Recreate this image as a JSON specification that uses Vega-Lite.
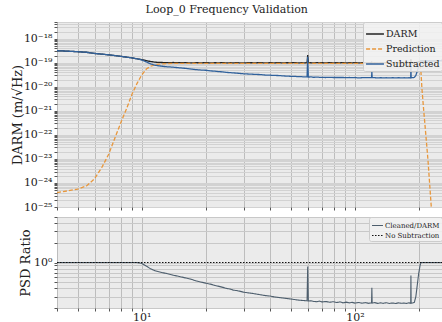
{
  "$schema": "https://vega.github.io/schema/vega-lite/v6.json",
  "padding": {"left": 11, "top": 4, "right": 0, "bottom": 0},
  "title": {"text": "Loop_0 Frequency Validation", "font": "DejaVu Serif", "fontSize": 11, "fontWeight": "normal", "color": "#222222", "anchor": "middle", "offset": 1},
  "spacing": 10,
  "bounds": "flush",
  "resolve": {"scale": {"color": "independent", "strokeDash": "independent", "x": "independent", "y": "independent"}, "legend": {"color": "independent", "strokeDash": "independent"}},
  "config": {
    "font": "DejaVu Serif",
    "view": {"fill": "#ebebeb", "stroke": null},
    "axis": {"domain": false, "tickColor": "#555555", "tickSize": 3, "labelFont": "DejaVu Serif", "titleFont": "DejaVu Serif", "labelColor": "#222222", "titleColor": "#222222", "titleFontWeight": "normal", "labelFontSize": 11, "titleFontSize": 13, "labelPadding": 2},
    "legend": {"title": null, "orient": "top-right", "offset": 0, "fillColor": "rgba(242,242,242,0.85)", "strokeColor": "#cccccc", "cornerRadius": 2, "symbolType": "stroke", "labelFont": "DejaVu Serif", "labelColor": "#222222"}
  },
  "datasets": {
    "psd": [
      {"f":4,"DARM":3.2e-19,"Prediction":4.0e-25,"Subtracted":3.2e-19,"R":1},
      {"f":4.5,"DARM":3.05e-19,"Prediction":4.7e-25,"Subtracted":3.05e-19,"R":1},
      {"f":5,"DARM":2.9e-19,"Prediction":5.6e-25,"Subtracted":2.9e-19,"R":1},
      {"f":5.5,"DARM":2.75e-19,"Prediction":7.5e-25,"Subtracted":2.75e-19,"R":1},
      {"f":6,"DARM":2.45e-19,"Prediction":1.5e-24,"Subtracted":2.45e-19,"R":1},
      {"f":6.5,"DARM":2.3e-19,"Prediction":4.5e-24,"Subtracted":2.3e-19,"R":1},
      {"f":7,"DARM":2.15e-19,"Prediction":1.6e-23,"Subtracted":2.15e-19,"R":1},
      {"f":7.5,"DARM":2.0e-19,"Prediction":8e-23,"Subtracted":2.0e-19,"R":1},
      {"f":8,"DARM":1.85e-19,"Prediction":3.5e-22,"Subtracted":1.85e-19,"R":1},
      {"f":8.5,"DARM":1.72e-19,"Prediction":1.3e-21,"Subtracted":1.72e-19,"R":1},
      {"f":9,"DARM":1.6e-19,"Prediction":5e-21,"Subtracted":1.6e-19,"R":1},
      {"f":9.5,"DARM":1.47e-19,"Prediction":1.4e-20,"Subtracted":1.47e-19,"R":1},
      {"f":10,"DARM":1.35e-19,"Prediction":3.2e-20,"Subtracted":1.31e-19,"R":0.97},
      {"f":10.5,"DARM":1.24e-19,"Prediction":5.5e-20,"Subtracted":1.09e-19,"R":0.88},
      {"f":11,"DARM":1.13e-19,"Prediction":7.2e-20,"Subtracted":9.0e-20,"R":0.8},
      {"f":11.5,"DARM":1.07e-19,"Prediction":8.2e-20,"Subtracted":8.0e-20,"R":0.75},
      {"f":12,"DARM":1.04e-19,"Prediction":8.8e-20,"Subtracted":7.5e-20,"R":0.72},
      {"f":13,"DARM":1.02e-19,"Prediction":9.3e-20,"Subtracted":6.9e-20,"R":0.68},
      {"f":14,"DARM":1.03e-19,"Prediction":9.5e-20,"Subtracted":6.6e-20,"R":0.64},
      {"f":15,"DARM":1.01e-19,"Prediction":9.4e-20,"Subtracted":6.2e-20,"R":0.61},
      {"f":16,"DARM":1.02e-19,"Prediction":9.5e-20,"Subtracted":5.9e-20,"R":0.58},
      {"f":17,"DARM":0.99e-19,"Prediction":9.4e-20,"Subtracted":5.5e-20,"R":0.555},
      {"f":18,"DARM":1.01e-19,"Prediction":9.5e-20,"Subtracted":5.2e-20,"R":0.52},
      {"f":19,"DARM":1.0e-19,"Prediction":9.4e-20,"Subtracted":5.0e-20,"R":0.5},
      {"f":20,"DARM":1.02e-19,"Prediction":9.5e-20,"Subtracted":4.9e-20,"R":0.48},
      {"f":21,"DARM":0.99e-19,"Prediction":9.4e-20,"Subtracted":4.6e-20,"R":0.465},
      {"f":22,"DARM":1.01e-19,"Prediction":9.5e-20,"Subtracted":4.5e-20,"R":0.445},
      {"f":23,"DARM":1.0e-19,"Prediction":9.5e-20,"Subtracted":4.3e-20,"R":0.43},
      {"f":24,"DARM":1.02e-19,"Prediction":9.4e-20,"Subtracted":4.2e-20,"R":0.415},
      {"f":25,"DARM":0.99e-19,"Prediction":9.5e-20,"Subtracted":4.0e-20,"R":0.4},
      {"f":26,"DARM":1.01e-19,"Prediction":9.4e-20,"Subtracted":3.9e-20,"R":0.39},
      {"f":27,"DARM":1.0e-19,"Prediction":9.5e-20,"Subtracted":3.8e-20,"R":0.375},
      {"f":28,"DARM":1.02e-19,"Prediction":9.5e-20,"Subtracted":3.7e-20,"R":0.37},
      {"f":29,"DARM":0.99e-19,"Prediction":9.4e-20,"Subtracted":3.6e-20,"R":0.36},
      {"f":30,"DARM":1.0e-19,"Prediction":9.5e-20,"Subtracted":3.5e-20,"R":0.35},
      {"f":32,"DARM":1.01e-19,"Prediction":9.4e-20,"Subtracted":3.4e-20,"R":0.34},
      {"f":34,"DARM":1.0e-19,"Prediction":9.5e-20,"Subtracted":3.3e-20,"R":0.33},
      {"f":36,"DARM":1.02e-19,"Prediction":9.5e-20,"Subtracted":3.25e-20,"R":0.32},
      {"f":38,"DARM":0.99e-19,"Prediction":9.4e-20,"Subtracted":3.1e-20,"R":0.31},
      {"f":40,"DARM":1.01e-19,"Prediction":9.5e-20,"Subtracted":3.05e-20,"R":0.305},
      {"f":42,"DARM":1.0e-19,"Prediction":9.5e-20,"Subtracted":3.0e-20,"R":0.295},
      {"f":44,"DARM":1.02e-19,"Prediction":9.4e-20,"Subtracted":2.95e-20,"R":0.29},
      {"f":46,"DARM":0.99e-19,"Prediction":9.5e-20,"Subtracted":2.85e-20,"R":0.285},
      {"f":48,"DARM":1.01e-19,"Prediction":9.5e-20,"Subtracted":2.8e-20,"R":0.28},
      {"f":50,"DARM":1.0e-19,"Prediction":9.4e-20,"Subtracted":2.75e-20,"R":0.275},
      {"f":52,"DARM":1.02e-19,"Prediction":9.5e-20,"Subtracted":2.75e-20,"R":0.27},
      {"f":54,"DARM":0.99e-19,"Prediction":9.5e-20,"Subtracted":2.65e-20,"R":0.265},
      {"f":56,"DARM":1.01e-19,"Prediction":9.4e-20,"Subtracted":2.65e-20,"R":0.262},
      {"f":58,"DARM":1.0e-19,"Prediction":9.5e-20,"Subtracted":2.6e-20,"R":0.26},
      {"f":59.6,"DARM":1.01e-19,"Prediction":9.5e-20,"Subtracted":2.6e-20,"R":0.258},
      {"f":60,"DARM":2.1e-19,"Prediction":9.5e-20,"Subtracted":1.8e-19,"R":0.87},
      {"f":60.4,"DARM":1.0e-19,"Prediction":9.4e-20,"Subtracted":2.55e-20,"R":0.256},
      {"f":62,"DARM":1.01e-19,"Prediction":9.5e-20,"Subtracted":2.6e-20,"R":0.258},
      {"f":64,"DARM":0.99e-19,"Prediction":9.5e-20,"Subtracted":2.5e-20,"R":0.252},
      {"f":66,"DARM":1.02e-19,"Prediction":9.4e-20,"Subtracted":2.55e-20,"R":0.25},
      {"f":68,"DARM":1.0e-19,"Prediction":9.5e-20,"Subtracted":2.5e-20,"R":0.255},
      {"f":70,"DARM":1.01e-19,"Prediction":9.5e-20,"Subtracted":2.5e-20,"R":0.248},
      {"f":73,"DARM":0.99e-19,"Prediction":9.4e-20,"Subtracted":2.45e-20,"R":0.252},
      {"f":76,"DARM":1.02e-19,"Prediction":9.5e-20,"Subtracted":2.5e-20,"R":0.245},
      {"f":79,"DARM":1.0e-19,"Prediction":9.5e-20,"Subtracted":2.45e-20,"R":0.25},
      {"f":82,"DARM":1.01e-19,"Prediction":9.4e-20,"Subtracted":2.45e-20,"R":0.243},
      {"f":85,"DARM":1.0e-19,"Prediction":9.5e-20,"Subtracted":2.45e-20,"R":0.248},
      {"f":88,"DARM":1.02e-19,"Prediction":9.5e-20,"Subtracted":2.45e-20,"R":0.24},
      {"f":91,"DARM":0.99e-19,"Prediction":9.4e-20,"Subtracted":2.4e-20,"R":0.246},
      {"f":94,"DARM":1.01e-19,"Prediction":9.5e-20,"Subtracted":2.45e-20,"R":0.24},
      {"f":97,"DARM":1.0e-19,"Prediction":9.5e-20,"Subtracted":2.4e-20,"R":0.244},
      {"f":100,"DARM":1.02e-19,"Prediction":9.4e-20,"Subtracted":2.45e-20,"R":0.238},
      {"f":104,"DARM":0.99e-19,"Prediction":9.5e-20,"Subtracted":2.35e-20,"R":0.243},
      {"f":108,"DARM":1.01e-19,"Prediction":9.5e-20,"Subtracted":2.4e-20,"R":0.237},
      {"f":112,"DARM":1.0e-19,"Prediction":9.4e-20,"Subtracted":2.4e-20,"R":0.242},
      {"f":116,"DARM":1.02e-19,"Prediction":9.5e-20,"Subtracted":2.4e-20,"R":0.236},
      {"f":119.6,"DARM":1.0e-19,"Prediction":9.5e-20,"Subtracted":2.4e-20,"R":0.24},
      {"f":120,"DARM":1.05e-19,"Prediction":9.5e-20,"Subtracted":4.2e-20,"R":0.41},
      {"f":120.4,"DARM":1.0e-19,"Prediction":9.4e-20,"Subtracted":2.4e-20,"R":0.238},
      {"f":124,"DARM":1.01e-19,"Prediction":9.5e-20,"Subtracted":2.4e-20,"R":0.242},
      {"f":128,"DARM":0.99e-19,"Prediction":9.5e-20,"Subtracted":2.35e-20,"R":0.235},
      {"f":132,"DARM":1.02e-19,"Prediction":9.4e-20,"Subtracted":2.4e-20,"R":0.24},
      {"f":136,"DARM":1.0e-19,"Prediction":9.5e-20,"Subtracted":2.35e-20,"R":0.236},
      {"f":140,"DARM":1.01e-19,"Prediction":9.5e-20,"Subtracted":2.4e-20,"R":0.241},
      {"f":145,"DARM":0.99e-19,"Prediction":9.4e-20,"Subtracted":2.35e-20,"R":0.235},
      {"f":150,"DARM":1.02e-19,"Prediction":9.5e-20,"Subtracted":2.4e-20,"R":0.239},
      {"f":155,"DARM":1.0e-19,"Prediction":9.5e-20,"Subtracted":2.35e-20,"R":0.234},
      {"f":160,"DARM":1.01e-19,"Prediction":9.4e-20,"Subtracted":2.4e-20,"R":0.24},
      {"f":165,"DARM":1.0e-19,"Prediction":9.5e-20,"Subtracted":2.35e-20,"R":0.236},
      {"f":170,"DARM":1.02e-19,"Prediction":9.5e-20,"Subtracted":2.4e-20,"R":0.238},
      {"f":175,"DARM":0.99e-19,"Prediction":9.4e-20,"Subtracted":2.35e-20,"R":0.235},
      {"f":179,"DARM":1.01e-19,"Prediction":9.5e-20,"Subtracted":2.4e-20,"R":0.24},
      {"f":182.6,"DARM":1.0e-19,"Prediction":9.5e-20,"Subtracted":2.35e-20,"R":0.236},
      {"f":183,"DARM":1.4e-19,"Prediction":9.5e-20,"Subtracted":9.0e-20,"R":0.63},
      {"f":183.4,"DARM":1.0e-19,"Prediction":9.5e-20,"Subtracted":2.4e-20,"R":0.238},
      {"f":187,"DARM":1.02e-19,"Prediction":9.4e-20,"Subtracted":2.4e-20,"R":0.24},
      {"f":190,"DARM":1.0e-19,"Prediction":9.3e-20,"Subtracted":2.5e-20,"R":0.245},
      {"f":193,"DARM":1.03e-19,"Prediction":9.2e-20,"Subtracted":3.0e-20,"R":0.3},
      {"f":196,"DARM":1.05e-19,"Prediction":9.0e-20,"Subtracted":4.5e-20,"R":0.45},
      {"f":199,"DARM":1.1e-19,"Prediction":8.8e-20,"Subtracted":7.0e-20,"R":0.68},
      {"f":202,"DARM":1.15e-19,"Prediction":7.5e-20,"Subtracted":1.0e-19,"R":0.9},
      {"f":204,"DARM":1.2e-19,"Prediction":4e-20,"Subtracted":1.2e-19,"R":1},
      {"f":206,"DARM":1.2e-19,"Prediction":9e-21,"Subtracted":1.2e-19,"R":1},
      {"f":210,"DARM":1.22e-19,"Prediction":1.1e-21,"Subtracted":1.22e-19,"R":1},
      {"f":215,"DARM":1.2e-19,"Prediction":1e-22,"Subtracted":1.2e-19,"R":1},
      {"f":220,"DARM":1.23e-19,"Prediction":9e-24,"Subtracted":1.23e-19,"R":1},
      {"f":228,"DARM":1.2e-19,"Prediction":1e-25,"Subtracted":1.2e-19,"R":1},
      {"f":240,"DARM":1.22e-19,"Prediction":5e-27,"Subtracted":1.22e-19,"R":1},
      {"f":256,"DARM":1.25e-19,"Prediction":1e-28,"Subtracted":1.25e-19,"R":1}
    ],
    "nosub": [{"f":4,"v":1},{"f":256,"v":1}]
  },
  "vconcat": [
    {
      "width": 385,
      "height": 185,
      "data": {"name": "psd"},
      "transform": [{"fold": ["DARM", "Prediction", "Subtracted"], "as": ["series", "val"]}],
      "mark": {"type": "line", "clip": true, "strokeWidth": 1.3},
      "encoding": {
        "x": {"field": "f", "type": "quantitative", "scale": {"type": "log", "domain": [4, 256], "nice": false},
              "axis": {"values": [4,5,6,7,8,9,10,20,30,40,50,60,70,80,90,100,200], "labels": false, "title": null, "gridColor": "#bdbdbd", "gridWidth": 1}},
        "y": {"field": "val", "type": "quantitative", "scale": {"type": "log", "domain": [1e-25, 5e-18], "nice": false},
              "axis": {"values": [1e-25,2e-25,3e-25,4e-25,5e-25,6e-25,7e-25,8e-25,9e-25,1e-24,2e-24,3e-24,4e-24,5e-24,6e-24,7e-24,8e-24,9e-24,1e-23,2e-23,3e-23,4e-23,5e-23,6e-23,7e-23,8e-23,9e-23,1e-22,2e-22,3e-22,4e-22,5e-22,6e-22,7e-22,8e-22,9e-22,1e-21,2e-21,3e-21,4e-21,5e-21,6e-21,7e-21,8e-21,9e-21,1e-20,2e-20,3e-20,4e-20,5e-20,6e-20,7e-20,8e-20,9e-20,1e-19,2e-19,3e-19,4e-19,5e-19,6e-19,7e-19,8e-19,9e-19,1e-18,2e-18,3e-18,4e-18,5e-18],
                       "labelExpr": "abs(log(datum.value)/LN10 - round(log(datum.value)/LN10)) > 0.01 ? '' : ['10⁻²⁵','10⁻²⁴','10⁻²³','10⁻²²','10⁻²¹','10⁻²⁰','10⁻¹⁹','10⁻¹⁸'][round(log(datum.value)/LN10) + 25]",
                       "title": "DARM (m/√Hz)", "gridColor": "#d2d2d2", "gridWidth": 1, "minExtent": 28, "maxExtent": 28, "titlePadding": 5, "labelOverlap": false}},
        "color": {"field": "series", "type": "nominal", "scale": {"domain": ["DARM", "Prediction", "Subtracted"], "range": ["#222222", "#e8973c", "#30619c"]},
                  "legend": {"labelFontSize": 9.5, "symbolSize": 320, "symbolStrokeWidth": 1.4, "padding": 2, "rowPadding": 0, "labelOffset": 1}},
        "strokeDash": {"field": "series", "type": "nominal", "scale": {"domain": ["DARM", "Prediction", "Subtracted"], "range": [[1, 0], [4, 2], [1, 0]]},
                  "legend": {"labelFontSize": 9.5, "symbolSize": 320, "symbolStrokeWidth": 1.4, "padding": 2, "rowPadding": 0, "labelOffset": 1}}
      }
    },
    {
      "width": 385,
      "height": 91,
      "encoding": {
        "x": {"field": "f", "type": "quantitative", "scale": {"type": "log", "domain": [4, 256], "nice": false},
              "axis": {"values": [4,5,6,7,8,9,10,20,30,40,50,60,70,80,90,100,200], "labelExpr": "datum.value == 10 ? '10¹' : datum.value == 100 ? '10²' : ''", "title": null, "gridColor": "#bdbdbd", "gridWidth": 1, "labelOverlap": false, "labelFontSize": 11, "labelPadding": 0}}
      },
      "layer": [
        {
          "data": {"name": "psd"},
          "mark": {"type": "line", "clip": true, "strokeWidth": 1.1},
          "encoding": {
            "y": {"field": "R", "type": "quantitative", "scale": {"type": "log", "domain": [0.2, 5], "nice": false},
                  "axis": {"values": [0.2,0.3,0.4,0.5,0.6,0.7,0.8,0.9,1,2,3,4,5], "labelExpr": "datum.value == 1 ? '10⁰' : ''", "title": "PSD Ratio", "gridColor": "#c8c8c8", "gridWidth": 1, "minExtent": 20, "maxExtent": 20, "titlePadding": 5, "labelOverlap": false}},
            "color": {"datum": "Cleaned/DARM", "type": "nominal", "scale": {"domain": ["Cleaned/DARM", "No Subtraction"], "range": ["#4d5e6d", "#111111"]},
                      "legend": {"labelFontSize": 7, "symbolSize": 120, "symbolStrokeWidth": 1.2, "padding": 2, "rowPadding": 0, "labelOffset": 1}},
            "strokeDash": {"datum": "Cleaned/DARM", "type": "nominal", "scale": {"domain": ["Cleaned/DARM", "No Subtraction"], "range": [[1, 0], [1.5, 1.5]]},
                      "legend": {"labelFontSize": 7, "symbolSize": 120, "symbolStrokeWidth": 1.2, "padding": 2, "rowPadding": 0, "labelOffset": 1}}
          }
        },
        {
          "data": {"name": "nosub"},
          "mark": {"type": "line", "clip": true, "strokeWidth": 1.2},
          "encoding": {
            "y": {"field": "v", "type": "quantitative"},
            "color": {"datum": "No Subtraction", "type": "nominal"},
            "strokeDash": {"datum": "No Subtraction", "type": "nominal"}
          }
        }
      ]
    }
  ]
}
